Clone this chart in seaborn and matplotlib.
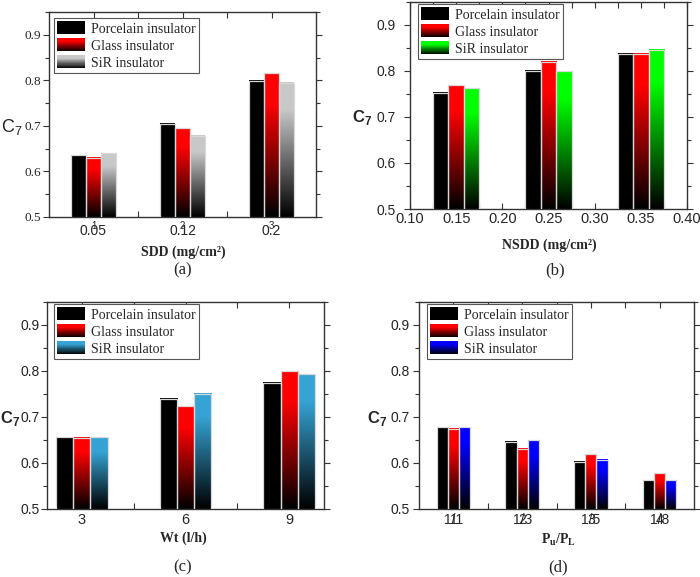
import numpy as np
import pandas as pd
import matplotlib
matplotlib.use("Agg")
import matplotlib.pyplot as plt
import matplotlib.colors as mcolors
from matplotlib.patches import Patch, Rectangle
from matplotlib.legend_handler import HandlerBase
from matplotlib.ticker import FixedLocator, MultipleLocator, FormatStrFormatter
import seaborn as sns

# ---- data ----
kinds = ["Porcelain insulator", "Glass insulator", "SiR insulator"]

a_sdd = ["0.05", "0.12", "0.2"]
a_porcelain = [0.635, 0.705, 0.799]
a_glass = [0.630, 0.695, 0.816]
a_sir = [0.640, 0.678, 0.795]

b_nsdd = [0.15, 0.25, 0.35]
b_porcelain = [0.753, 0.801, 0.838]
b_glass = [0.769, 0.820, 0.837]
b_sir = [0.763, 0.799, 0.846]

c_wt = [3, 6, 9]
c_porcelain = [0.656, 0.740, 0.774]
c_glass = [0.655, 0.723, 0.800]
c_sir = [0.656, 0.751, 0.793]

d_ratio = ["1/1", "1/3", "1/5", "1/8"]
d_porcelain = [0.678, 0.646, 0.603, 0.562]
d_glass = [0.675, 0.631, 0.619, 0.578]
d_sir = [0.678, 0.649, 0.607, 0.563]

sir_colors = {"a": "#c8c8c8", "b": "#00ff00", "c": "#35a3d3", "d": "#0000ff"}

SERIF = "Liberation Serif"
SANS = "Liberation Sans"
W, H = 700, 577

sns.set_style("white")
plt.rcParams["font.family"] = SANS


def long_df(xs, p, g, s):
    return pd.DataFrame({
        "x": list(xs) * 3,
        "C7": list(p) + list(g) + list(s),
        "kind": [k for k in kinds for _ in xs],
    })


def rect(l, r, t, b):
    return [l / W, 1 - b / H, (r - l) / W, (b - t) / H]


def fpos(x, y):
    return x / W, 1 - y / H


def grad(n, boost=1.25):
    return np.clip(np.linspace(0, 1, n) * boost, 0, 1)


class GradientHandler(HandlerBase):
    def create_artists(self, legend, orig_handle, xdescent, ydescent,
                       width, height, fontsize, trans):
        rgb = np.array(mcolors.to_rgb(orig_handle.get_facecolor()))
        n = 24
        out = []
        for i, f in enumerate(grad(n)):
            r = Rectangle((-xdescent, -ydescent + i * height / n), width,
                          height / n * 1.05, facecolor=rgb * f,
                          edgecolor="none", lw=0, antialiased=False,
                          transform=trans)
            out.append(r)
        return out


def gradient_bars(ax, ymin):
    for bar in list(ax.patches):
        x, y = bar.get_x(), bar.get_y()
        w, h = bar.get_width(), bar.get_height()
        bottom, top = max(y, ymin), y + h
        if top <= bottom:
            continue
        rgb = np.array(mcolors.to_rgb(bar.get_facecolor()))
        img = grad(80)[:, None, None] * rgb[None, None, :]
        ax.imshow(img, extent=[x, x + w, bottom, top], origin="lower",
                  aspect="auto", interpolation="bilinear", zorder=2)
        bar.set_facecolor("none")
        bar.set_zorder(3)


def panel(fig, box, df, palette, native, width, xlim, ylab_bold,
          ytick_font, ytick_size, ypad, legend_at):
    ax = fig.add_axes(rect(*box))
    sns.barplot(data=df, x="x", y="C7", hue="kind", hue_order=kinds,
                palette=palette, saturation=1, width=width,
                native_scale=native, edgecolor="#d8d8d8", linewidth=0.9,
                legend=False, ax=ax)
    ax.set_ylim(0.5, 0.95)
    ax.set_xlim(*xlim)
    gradient_bars(ax, 0.5)
    ax.set_ylim(0.5, 0.95)
    ax.set_xlim(*xlim)

    ax.yaxis.set_major_locator(MultipleLocator(0.1))
    ax.yaxis.set_minor_locator(MultipleLocator(0.05))
    ax.yaxis.set_major_formatter(FormatStrFormatter("%.1f"))
    ax.tick_params(axis="y", which="both", direction="out", left=True,
                   right=True, length=4, width=0.8, color="#333333",
                   pad=ypad)
    ax.tick_params(axis="y", which="minor", length=3)
    ax.tick_params(axis="x", which="both", direction="in", bottom=True,
                   top=True, length=4, width=0.8, color="#333333")
    for lab in ax.get_yticklabels():
        lab.set_fontfamily(ytick_font)
        lab.set_fontsize(ytick_size)
    for sp in ax.spines.values():
        sp.set_color("#333333")
        sp.set_linewidth(1.0)

    ax.set_ylabel("C$_\\mathregular{7}$", rotation=0, fontfamily=SANS,
                  fontsize=13 if not ylab_bold else 12,
                  fontweight="bold" if ylab_bold else "normal",
                  ha="center", va="center")

    handles = [Patch(facecolor=palette[k]) for k in kinds]
    leg = ax.legend(handles, kinds, loc="upper left",
                    bbox_to_anchor=fpos(*legend_at),
                    bbox_transform=fig.transFigure, borderaxespad=0,
                    handler_map={Patch: GradientHandler()},
                    prop={"family": SERIF, "size": 10}, frameon=True,
                    fancybox=False, edgecolor="#555555", framealpha=1,
                    handlelength=2.0, handleheight=1.05, labelspacing=0.2,
                    handletextpad=0.4, borderpad=0.25)
    leg.get_frame().set_linewidth(0.8)
    return ax


fig = plt.figure(figsize=(7, 5.77), dpi=100)

# (a) SDD
pal_a = dict(zip(kinds, ["#000000", "#ff0000", sir_colors["a"]]))
ax = panel(fig, (49, 316, 12, 217),
           long_df(a_sdd, a_porcelain, a_glass, a_sir), pal_a, False, 0.5,
           (-0.5, 2.5), False, SERIF, 9.5, 2, (54, 18))
ax.xaxis.set_minor_locator(FixedLocator([0.5, 1.5]))
ax.tick_params(axis="x", labelsize=10, pad=5)
for i in range(len(a_sdd)):
    ax.text(i, -0.045, str(i + 1), transform=ax.get_xaxis_transform(),
            ha="center", va="center", fontsize=7, fontfamily=SANS)
ax.set_xlabel("SDD (mg/cm²)", fontfamily=SERIF, fontweight="bold",
              fontsize=10, va="center")
ax.xaxis.set_label_coords(*fpos(183, 252), transform=fig.transFigure)
ax.yaxis.set_label_coords(*fpos(12, 127), transform=fig.transFigure)
fig.text(*fpos(183, 270), "(a)", fontfamily=SERIF, fontsize=12,
         ha="center", va="center")

# (b) NSDD
pal_b = dict(zip(kinds, ["#000000", "#ff0000", sir_colors["b"]]))
ax = panel(fig, (410, 687, 2, 209),
           long_df(b_nsdd, b_porcelain, b_glass, b_sir), pal_b, True, 0.5,
           (0.10, 0.40), True, SANS, 10, 6, (418, 4))
ax.xaxis.set_major_locator(MultipleLocator(0.05))
ax.xaxis.set_minor_locator(MultipleLocator(0.025))
ax.xaxis.set_major_formatter(FormatStrFormatter("%.2f"))
ax.tick_params(axis="x", labelsize=10.5, pad=2)
ax.set_xlabel("NSDD (mg/cm²)", fontfamily=SERIF, fontweight="bold",
              fontsize=10, va="center")
ax.xaxis.set_label_coords(*fpos(549, 245), transform=fig.transFigure)
ax.yaxis.set_label_coords(*fpos(362, 117), transform=fig.transFigure)
fig.text(*fpos(555, 270), "(b)", fontfamily=SERIF, fontsize=12,
         ha="center", va="center")

# (c) Wt
pal_c = dict(zip(kinds, ["#000000", "#ff0000", sir_colors["c"]]))
ax = panel(fig, (47, 324, 302, 509),
           long_df(c_wt, c_porcelain, c_glass, c_sir), pal_c, True, 0.5,
           (2, 10), True, SANS, 10, 1, (54, 304))
ax.xaxis.set_major_locator(FixedLocator(c_wt))
ax.xaxis.set_minor_locator(FixedLocator([4.5, 7.5]))
ax.tick_params(axis="x", labelsize=10.5, pad=3)
ax.set_xlabel("Wt (l/h)", fontfamily=SERIF, fontweight="bold",
              fontsize=10, va="center")
ax.xaxis.set_label_coords(*fpos(183, 538), transform=fig.transFigure)
ax.yaxis.set_label_coords(*fpos(10, 418), transform=fig.transFigure)
fig.text(*fpos(183, 567), "(c)", fontfamily=SERIF, fontsize=12,
         ha="center", va="center")

# (d) Pu/PL
pal_d = dict(zip(kinds, ["#000000", "#ff0000", sir_colors["d"]]))
ax = panel(fig, (419, 694, 302, 509),
           long_df(d_ratio, d_porcelain, d_glass, d_sir), pal_d, False, 0.49,
           (-0.5, 3.5), True, SANS, 10, 3, (427, 304))
ax.xaxis.set_minor_locator(FixedLocator([0.5, 1.5, 2.5]))
ax.tick_params(axis="x", labelsize=10, pad=3)
for lab in ax.get_xticklabels():
    lab.set_fontfamily(SANS)
for i in range(len(d_ratio)):
    ax.text(i, -0.055, str(i + 1), transform=ax.get_xaxis_transform(),
            ha="center", va="center", fontsize=10, fontfamily=SANS)
ax.set_xlabel("$\\mathregular{P_u/P_L}$", fontfamily=SERIF,
              fontweight="bold", fontsize=10, va="center")
ax.xaxis.set_label_coords(*fpos(558, 540), transform=fig.transFigure)
ax.yaxis.set_label_coords(*fpos(377, 418), transform=fig.transFigure)
fig.text(*fpos(558, 567), "(d)", fontfamily=SERIF, fontsize=12,
         ha="center", va="center")

fig.savefig("out.png", dpi=100)
